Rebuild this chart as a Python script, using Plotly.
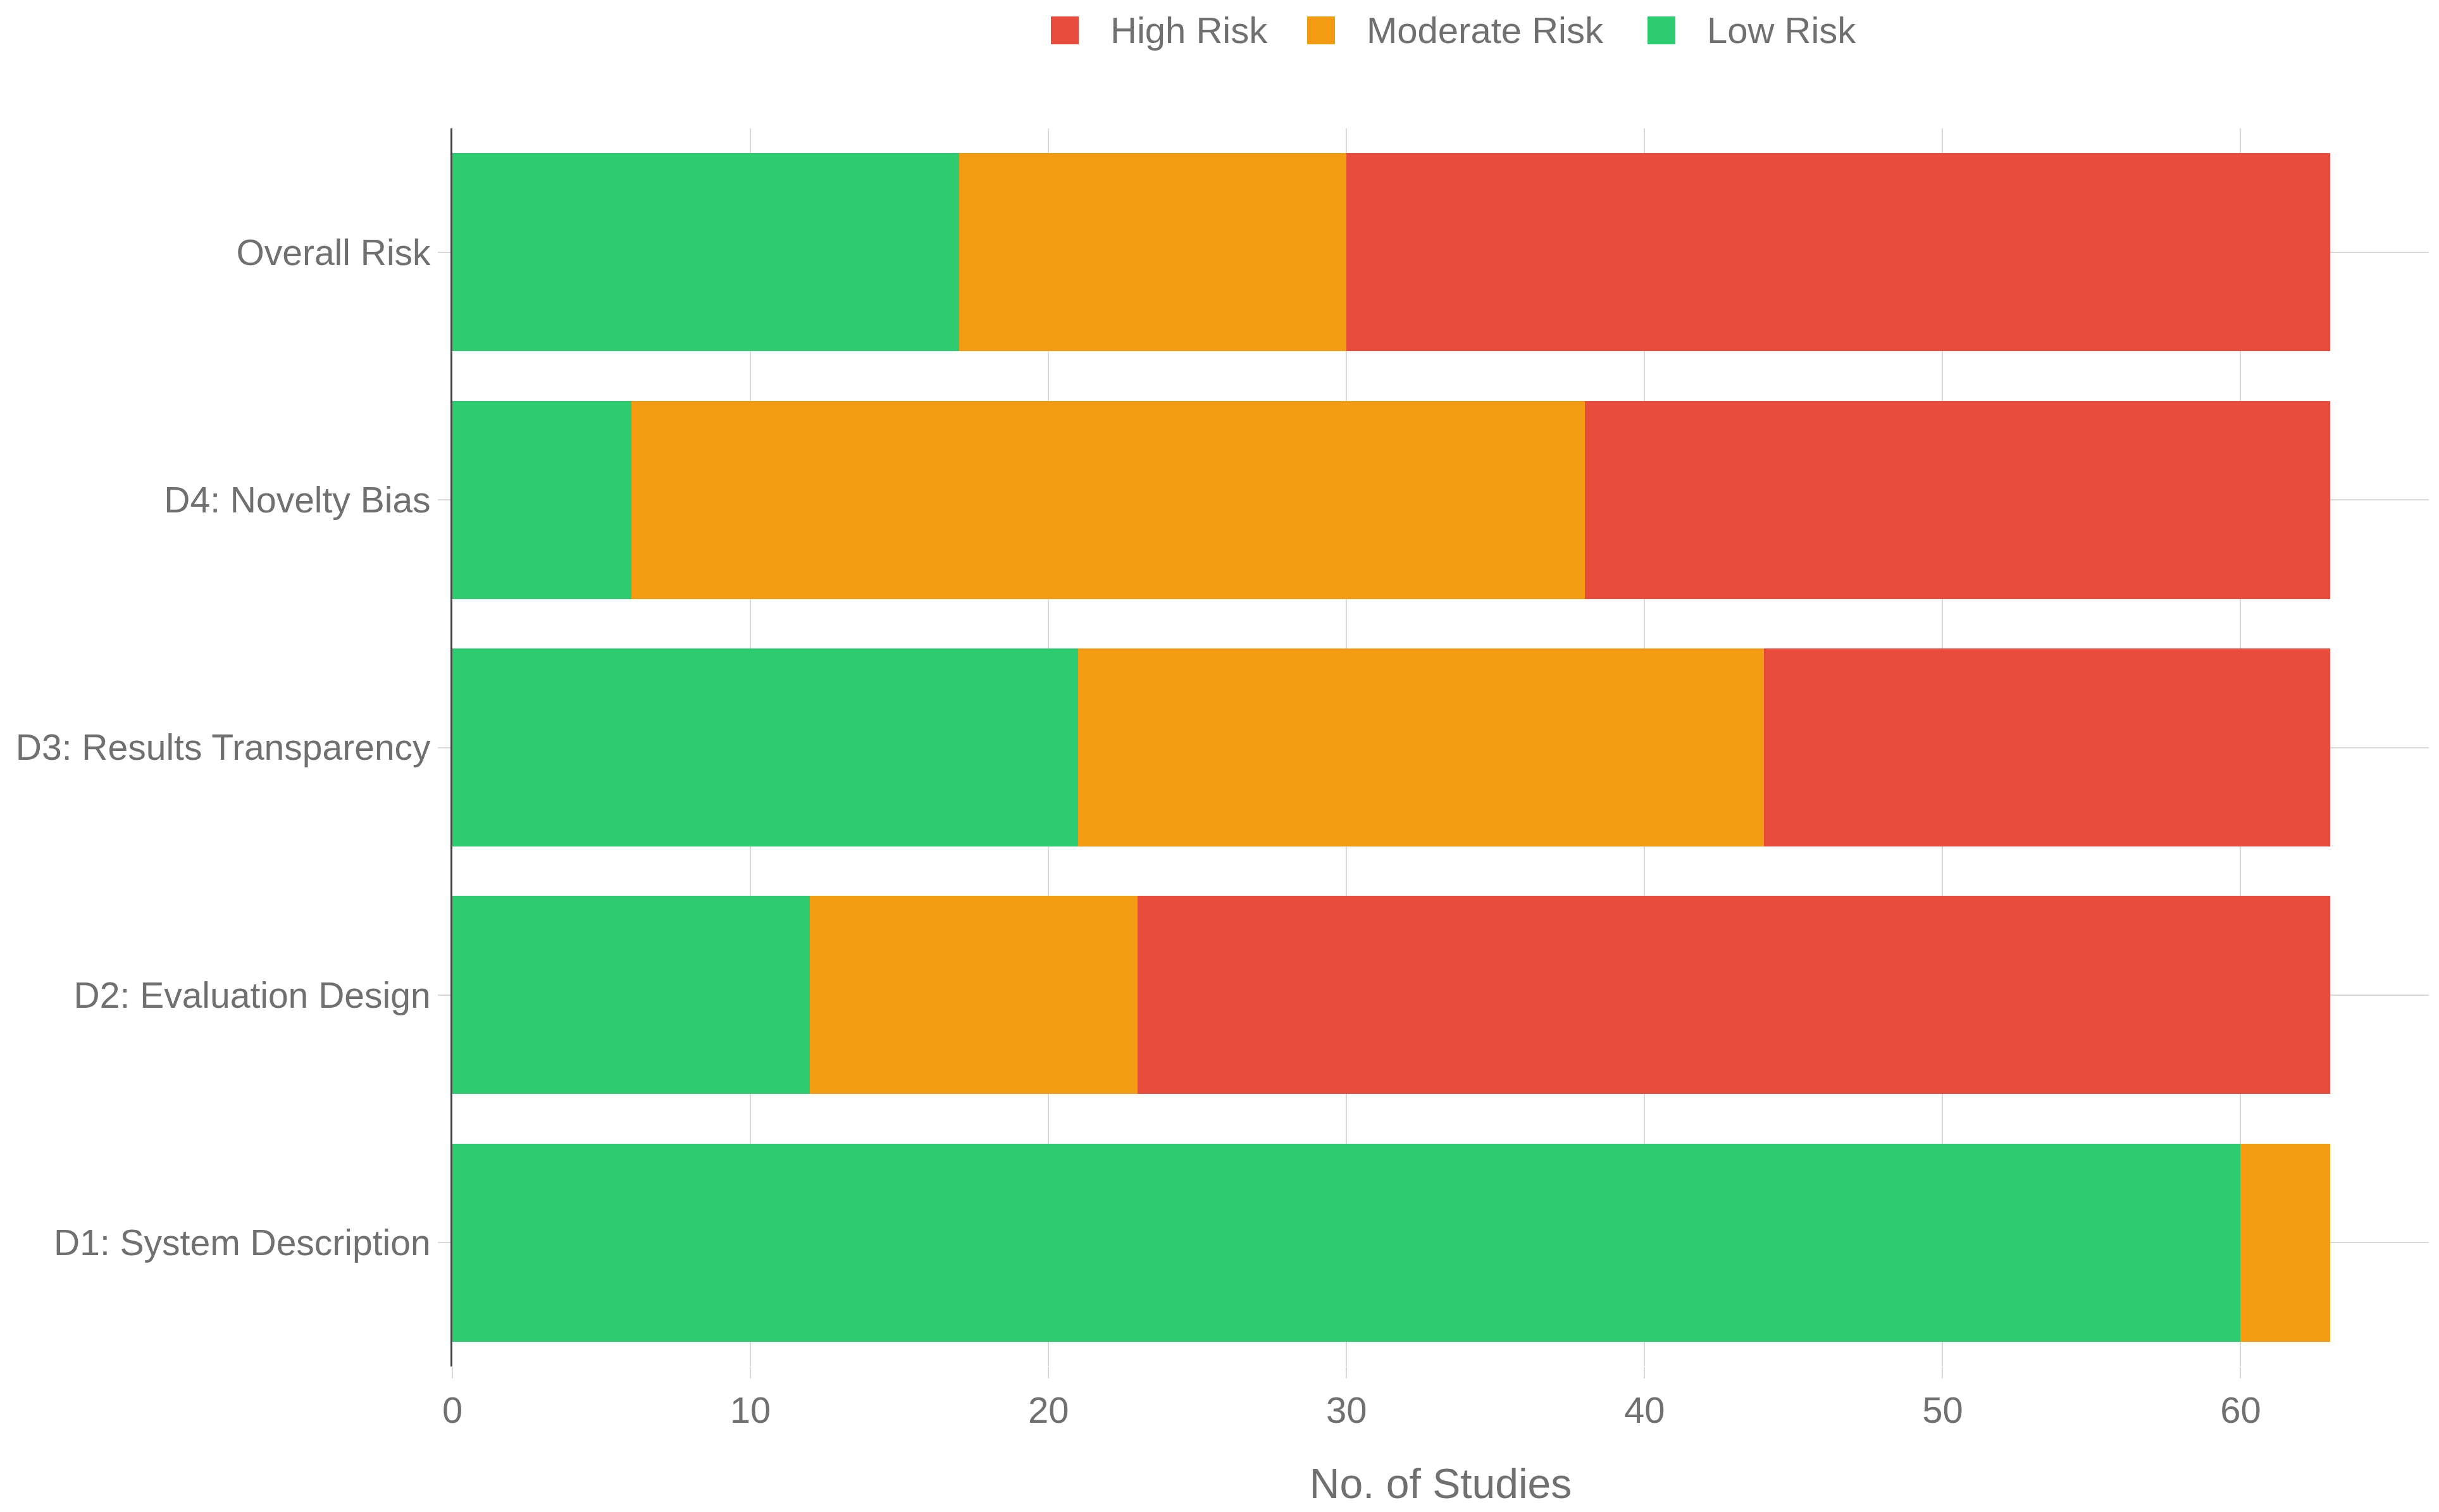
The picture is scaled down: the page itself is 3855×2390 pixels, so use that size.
import plotly.graph_objects as go

# Risk of bias counts per domain (bottom to top on the chart)
domains = [
    "D1: System Description",
    "D2: Evaluation Design",
    "D3: Results Transparency",
    "D4: Novelty Bias",
    "Overall Risk",
]
low_risk = [60, 12, 21, 6, 17]
moderate_risk = [3, 11, 23, 32, 13]
high_risk = [0, 40, 19, 25, 33]

series_names = ["Low Risk", "Moderate Risk", "High Risk"]
series_colors = ["#2ECC71", "#F39C12", "#E74C3C"]

W, H = 3855, 2390
ML, MR, MT, MB = 707, 24, 195, 238
text_color = "#707070"
font_family = "Liberation Sans"

fig = go.Figure()

for name, values, color in zip(series_names, [low_risk, moderate_risk, high_risk], series_colors):
    fig.add_trace(go.Bar(
        y=domains,
        x=values,
        name=name,
        orientation="h",
        marker=dict(color=color, line=dict(width=0)),
        showlegend=False,
    ))


# legend drawn by hand so the swatches can be as large as in the original
def px_x(p):
    return (p - ML) / (W - ML - MR)


def px_y(p):
    return (H - MB - p) / (H - MT - MB)


legend_items = [
    ("High Risk", "#E74C3C", 1653),
    ("Moderate Risk", "#F39C12", 2058),
    ("Low Risk", "#2ECC71", 2596),
]
sw = 44
cy = 40
for label, color, x0 in legend_items:
    fig.add_shape(
        type="rect", xref="paper", yref="paper",
        x0=px_x(x0), x1=px_x(x0 + sw),
        y0=px_y(cy + sw / 2), y1=px_y(cy - sw / 2),
        fillcolor=color, line=dict(width=0),
    )
    fig.add_annotation(
        xref="paper", yref="paper",
        x=px_x(x0 + sw + 48), y=px_y(cy),
        text=label, showarrow=False,
        xanchor="left", yanchor="middle",
        font=dict(family=font_family, size=58, color=text_color),
    )

fig.update_layout(
    barmode="stack",
    bargap=0.2,
    width=W,
    height=H,
    margin=dict(l=ML, r=MR, t=MT, b=MB),
    plot_bgcolor="white",
    paper_bgcolor="white",
    font=dict(family=font_family, size=58, color=text_color),
    showlegend=False,
    xaxis=dict(
        title=dict(text="No. of Studies", font=dict(size=66, color=text_color), standoff=62),
        showgrid=True,
        gridcolor="#D9D9D9",
        gridwidth=2,
        zeroline=False,
        ticks="outside",
        ticklen=18,
        tickcolor="#D9D9D9",
        tickwidth=2,
        dtick=10,
        tickfont=dict(size=58, color=text_color),
    ),
    yaxis=dict(
        showgrid=True,
        gridcolor="#D9D9D9",
        gridwidth=2,
        showline=True,
        linecolor="#444444",
        linewidth=3,
        ticks="outside",
        ticklen=20,
        tickcolor="#D9D9D9",
        tickwidth=2,
        tickfont=dict(size=57, color=text_color),
    ),
)

fig.write_html("out.html")
